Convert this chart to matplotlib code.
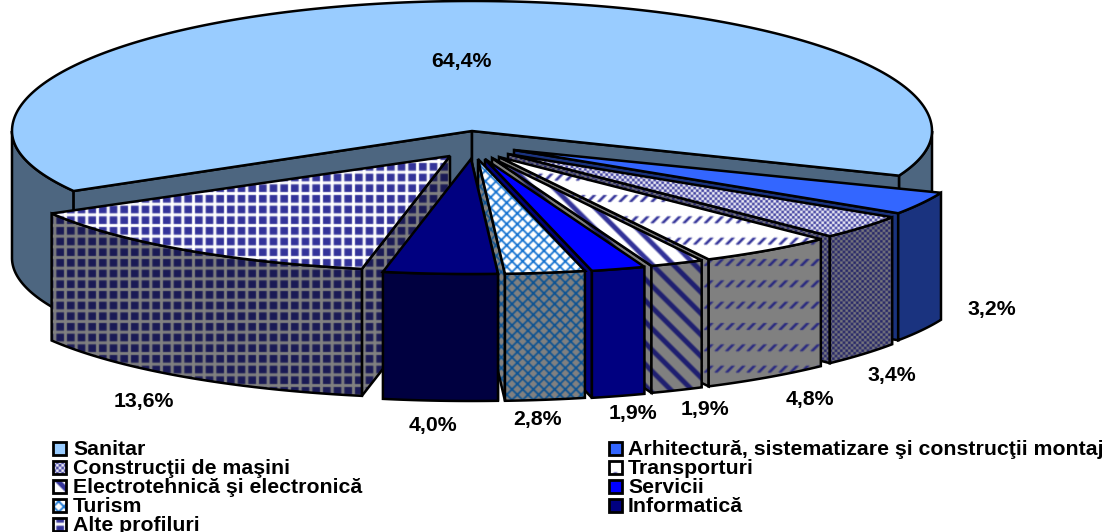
import numpy as np
import matplotlib
matplotlib.use("Agg")
import matplotlib.pyplot as plt
from matplotlib.patches import Polygon

# ---------- data ----------
categories = ["Sanitar", "Arhitectură, sistematizare şi construcţii montaj",
              "Construcţii de maşini", "Transporturi",
              "Electrotehnică şi electronică", "Servicii",
              "Turism", "Informatică", "Alte profiluri"]
values = [64.4, 3.2, 3.4, 4.8, 1.9, 1.9, 2.8, 4.0, 13.6]

# ---------- style / layout ----------
W, H = 1106, 532
CX, CY = 472, 131
RX = 460
DEPTH = 127
START = 240.0
explode_dx = [0, 42, 36, 27, 20, 13, 6, -1, -22]
explode_dy = [0, 19, 23, 26, 27, 28, 28, 28, 25]
ry_back = [130, 115, 115, 115, 115, 115, 115, 115, 115]
ry_front = [120, 115, 115, 115, 115, 115, 115, 115, 115]
patterns = [None, None, "dots", "dash", "stripes", None, "diamond", None, "grid"]
top_fg = ["#99CCFF", "#3366FF", "#333399", "#333399", "#333399", "#0000FF", "#0066CC", "#000080", "#333399"]
top_bg = ["#99CCFF", "#3366FF", "#FFFFFF", "#FFFFFF", "#FFFFFF", "#0000FF", "#FFFFFF", "#000080", "#FFFFFF"]
side_fg = ["#4D6680", "#1A337F", "#1F1F66", "#2A2A80", "#1F1F70", "#000080", "#034F94", "#000040", "#1A1A55"]
side_bg = ["#4D6680", "#1A337F", "#808080", "#808080", "#808080", "#000080", "#808080", "#000040", "#808080"]
label_x = [461, 992, 892, 810, 705, 633, 538, 433, 144]
label_y = [61, 309, 375, 399, 409, 414, 420, 425, 401]
draw_order = [8, 1, 2, 3, 4, 5, 6, 7]
FONT = "Liberation Sans"
FS = 15.3
LW = 1.8


def blur(m):
    out = m * 0.4
    for ax_, sh in ((0, 1), (0, -1), (1, 1), (1, -1)):
        out = out + np.roll(m, sh, axis=ax_) * 0.15
    return out


def make_masks():
    s = 3
    xs = (np.arange(W * s) + .5) / s
    ys = (np.arange(H * s) + .5) / s
    x, y = np.meshgrid(xs, ys)
    out = {}
    p = 32 / 3
    out["grid"] = ~(((x % p) < 3) | ((y % p) < 3))
    q = 8 / 3
    out["dots"] = (np.floor(x / q) + np.floor(y / q)) % 2 == 0
    u = x % p
    v = y % (2 * p)
    out["dash"] = (np.abs(u + v - 11) < 1.9) & (v > 3) & (v < 10)
    out["stripes"] = ((x - y) % (2 * p)) < 7
    a = x % p - p / 2
    b = y % p - p / 2
    c = (x + p / 2) % p - p / 2
    d = (y + p / 2) % p - p / 2
    star1 = (np.abs(a) + np.abs(b)) < 4.1
    star2 = (np.abs(c) + np.abs(d)) < 4.1
    out["diamond"] = ~(star1 | star2)
    res = {}
    for k, m in out.items():
        res[k] = blur(m.reshape(H, s, W, s).mean(axis=(1, 3)))
    return res


MASKS = make_masks()
fig = plt.figure(figsize=(W / 100, H / 100), dpi=100)
ax = fig.add_axes([0, 0, 1, 1])
ax.set_xlim(0, W)
ax.set_ylim(H, 0)
ax.axis("off")
ax.set_autoscale_on(False)
zc = [1]


def fill(pts, pattern, fg, bg, lw=LW):
    z = zc[0]
    zc[0] += 3
    base = Polygon(pts, closed=True, facecolor=bg, edgecolor="none", zorder=z)
    ax.add_patch(base)
    if pattern:
        m = MASKS[pattern][..., None]
        f = np.array(matplotlib.colors.to_rgb(fg))
        g = np.array(matplotlib.colors.to_rgb(bg))
        img = m * f + (1 - m) * g
        im = ax.imshow(img, extent=(0, W, H, 0), interpolation="nearest", zorder=z + 1, aspect="auto")
        im.set_clip_path(base)
    ax.add_patch(Polygon(pts, closed=True, facecolor="none", edgecolor="black",
                         linewidth=lw, joinstyle="miter", zorder=z + 2))


def arc(x0, y0, i, t0, t1, n=60):
    t = np.radians(np.linspace(t0, t1, n))
    cs = np.cos(t)
    b = np.where(cs > 0, ry_back[i], ry_front[i])
    return np.column_stack([x0 + RX * np.sin(t), y0 - b * cs])


def draw_side(x0, y0, t0, t1, i):
    pts = arc(x0, y0, i, t0, t1)
    low = pts[::-1] + [0, DEPTH]
    fill(np.vstack([pts, low]), patterns[i], side_fg[i], side_bg[i])


def draw_wall(x0, y0, t, i):
    e = arc(x0, y0, i, t, t, 1)[0]
    pts = [(x0, y0), e, e + [0, DEPTH], (x0, y0 + DEPTH)]
    fill(np.array(pts), patterns[i], side_fg[i], side_bg[i])


bounds = START + np.concatenate([[0], np.cumsum(values)]) * 360 / sum(values)

# main slice
t0, t1 = bounds[0], bounds[1]
draw_side(CX, CY, t0, 270, 0)
draw_side(CX, CY, 450, t1, 0)
draw_wall(CX, CY, t0, 0)
draw_wall(CX, CY, t1, 0)
fill(np.vstack([[(CX, CY)], arc(CX, CY, 0, t0, t1, 240)]), patterns[0], top_fg[0], top_bg[0])

for i in draw_order:
    t0 = bounds[i] % 360
    t1 = t0 + (bounds[i + 1] - bounds[i])
    x0 = CX + explode_dx[i]
    y0 = CY + explode_dy[i]
    mid = (t0 + t1) / 2
    draw_wall(x0, y0, t1 if mid < 180 else t0, i)
    draw_side(x0, y0, t0, t1, i)
    fill(np.vstack([[(x0, y0)], arc(x0, y0, i, t0, t1)]), patterns[i], top_fg[i], top_bg[i])

# value labels
for v, lx, ly in zip(values, label_x, label_y):
    ax.text(lx, ly, f"{v:.1f}".replace(".", ",") + "%", ha="center", va="center",
            family=FONT, weight="bold", fontsize=FS, color="black", zorder=500)

# legend
col_sw = [53, 609]
col_tx = [73, 628]
row_y = [448.5, 467.5, 486.5, 505.5, 524.5]
for i, name in enumerate(categories):
    c, r = i % 2, i // 2
    sx, sy = col_sw[c], row_y[r] - 6.5
    sq = [(sx, sy), (sx + 13, sy), (sx + 13, sy + 13), (sx, sy + 13)]
    fill(np.array(sq), patterns[i], top_fg[i], top_bg[i], lw=2.0)
    ax.text(col_tx[c], row_y[r] + 1, name, ha="left", va="center",
            family=FONT, weight="bold", fontsize=FS, color="black", zorder=500)

ax.set_xlim(0, W)
ax.set_ylim(H, 0)
fig.savefig("out.png", dpi=100, facecolor="white")
